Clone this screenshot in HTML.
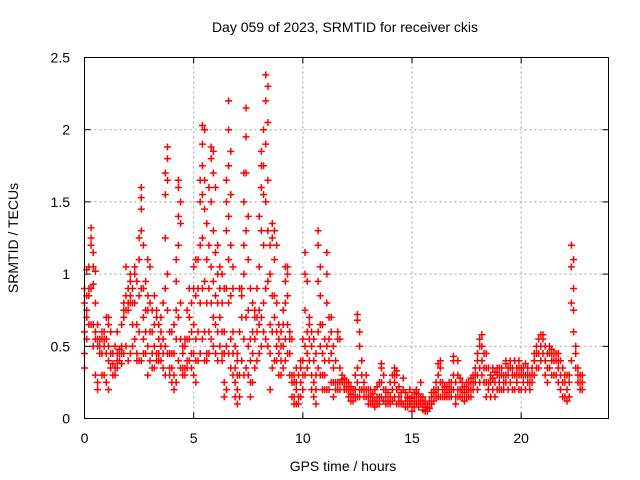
<!DOCTYPE html>
<html><head><meta charset="utf-8"><style>
body{margin:0;background:#fff;}
svg{display:block;font-family:"Liberation Sans",sans-serif;}
</style></head><body>
<svg id="chart" width="640" height="480" viewBox="0 0 640 480" xmlns="http://www.w3.org/2000/svg">
<rect width="640" height="480" fill="#fff"/>
<text x="345" y="32" font-size="14" text-anchor="middle">Day 059 of 2023, SRMTID for receiver ckis</text>
<text x="0" y="0" font-size="14" text-anchor="middle" transform="translate(18,238) rotate(-90)">SRMTID / TECUs</text>
<text x="343" y="471" font-size="14" text-anchor="middle">GPS time / hours</text>
<g id="grid"></g><g id="ticks"></g><g id="marks"></g>
<rect x="84.5" y="57.5" width="524" height="361" fill="none" stroke="#000" stroke-width="1"/>
</svg>
<script>
const xTicks=[0,5,10,15,20];
const yTicks=[0,0.5,1,1.5,2,2.5];
const yTickLabels=["0","0.5","1","1.5","2","2.5"];
// each row: [hour, SRMTID values...]
const tec=[
[0.0,.35,.45,.6,.8,.9],[0.1,.55,.7,.85,1.03,.75],[0.2,.65,.9,1.05,.85],[0.3,.65,1.25,1.32,1.2,.9],[0.4,.5,.65,.93,1.05,1.15],
[0.5,.3,.6,.8,1.02,.55],[0.6,.2,.25,.5,.55,.65],[0.7,.45,.55,.5],[0.8,.45,.55,.6,.3],[0.9,.3,.5,.55,.6],
[1.0,.25,.45,.55,.7],[1.1,.2,.4,.5,.65,.7],[1.2,.35,.45,.6],[1.3,.3,.38,.45],[1.4,.3,.35,.5],
[1.5,.35,.4,.45,.6],[1.6,.4,.45,.48],[1.7,.38,.45,.5,.65],[1.8,.45,.7,.75,.8],[1.9,.5,.75,.85,1.05],
[2.0,.4,.75,.8,.9],[2.1,.45,.8,.85,.95,1.0],[2.2,.5,.65,.8,.9],[2.3,.55,.8,1.0,1.05],[2.4,.4,.45,.65,.95],
[2.5,.4,.6,.85,1.1,1.25],[2.6,.4,.9,1.3,1.45,1.53,1.6],[2.7,.45,.55,.7,.9,1.2],[2.8,.45,.6,.75,.95],[2.9,.5,.75,.85,1.1,.3],
[3.0,.4,.6,.8,1.05],[3.1,.35,.45,.6,.75],[3.2,.35,.5,.65,.85],[3.3,.4,.45,.7,.75],[3.4,.45,.55,.65,.4],
[3.5,.4,.5,.6,.7],[3.6,.35,.45,.55,.8],[3.7,.3,.5,.9,1.25,1.55,1.7],[3.8,.45,.75,1.0,1.65,1.8,1.88],[3.9,.3,.35,.45,.6],
[4.0,.25,.35,.45,.6],[4.1,.2,.3,.45,.65],[4.2,.25,.55,.75,.95,1.1],[4.3,.4,.7,1.2,1.4,1.6,1.65],[4.4,.35,.55,.8,1.35,1.5],
[4.5,.3,.35,.45,.5],[4.6,.3,.35,.5,.55],[4.7,.35,.4,.55,.75],[4.8,.4,.55,.7,.9],[4.9,.35,.45,.6,.8],
[5.0,.3,.45,.65,.9,1.05],[5.1,.25,.4,.55,.85,1.1],[5.2,.4,.6,.9,1.1],[5.3,.45,.8,1.2,1.5,1.65],[5.4,.55,.9,1.25,1.55,1.75,1.9,2.03],
[5.5,.4,.6,.95,1.45,1.65,2.0],[5.6,.4,.45,.8,1.1,1.35],[5.7,.45,.6,.9,1.2,1.6],[5.8,.55,.8,1.05,1.5,1.8,1.88],[5.9,.5,.7,.95,1.3,1.7,1.85],
[6.0,.45,.65,.85,1.15,1.6],[6.1,.4,.6,.8,1.0,1.2],[6.2,.5,.7,.9,1.05],[6.3,.4,.45,.6,.8,1.0],[6.4,.15,.25,.45,.6,.9],
[6.5,.2,.5,.9,1.3,1.5,1.65],[6.6,.45,.8,1.1,1.4,1.75,2.0,2.2],[6.7,.35,.55,.85,1.2,1.55,1.85],[6.8,.3,.45,.6,.9,1.05],[6.9,.15,.25,.35,.5],
[7.0,.1,.2,.3,.4,.45],[7.1,.15,.3,.6,.9],[7.2,.4,.7,.85,.9],[7.3,.3,.55,1.0,1.2,1.5,1.7],[7.4,.35,.7,1.3,1.7,1.95,2.15],
[7.5,.3,.5,.75,1.1,1.4],[7.6,.15,.25,.4,.55,.9],[7.7,.25,.45,.6,.8],[7.8,.35,.55,.7,.75],[7.9,.4,.6,.7,.9],
[8.0,.45,.65,.75,1.05,1.4],[8.1,.5,.7,1.3,1.6,1.75,1.85],[8.2,.6,.8,1.2,1.55,1.75,2.0],[8.3,.55,.9,1.5,1.9,2.2,2.38],[8.4,.5,.95,1.3,1.65,2.05,2.3],
[8.5,.2,.45,.65,1.0,1.2],[8.6,.35,.6,.85,1.25,1.35],[8.7,.4,.7,.85,1.1,1.3],[8.8,.4,.5,.6,.8,1.2],[8.9,.3,.45,.55,.65],
[9.0,.3,.4,.5,.6],[9.1,.35,.5,.65,.75],[9.2,.4,.55,.8,.95,1.05],[9.3,.45,.65,.85,1.0,1.05],[9.4,.3,.45,.55,.6],
[9.5,.25,.15,.3,.55],[9.6,.1,.15,.25,.3],[9.7,.1,.2,.25,.35],[9.8,.1,.15,.3],[9.9,.15,.25,.35,.4],
[10.0,.2,.3,.4,.55],[10.1,.3,.5,.75,1.0,1.15],[10.2,.35,.45,.6,.95],[10.3,.4,.55,.65,.7],[10.4,.2,.3,.5,.6],
[10.5,.15,.25,.4,.55],[10.6,.1,.2,.3,.45],[10.7,.35,.6,.95,1.2,1.3],[10.8,.3,.5,.85,1.05,.65],[10.9,.2,.3,.45,.65],
[11.0,.2,.3,.4,.55],[11.1,.2,.5,.8,1.0,1.15],[11.2,.2,.4,.55,.7],[11.3,.25,.45,.6,.7],[11.4,.15,.25,.35,.5],
[11.5,.2,.25,.4],[11.6,.2,.25,.55,.6],[11.7,.2,.25,.35,.55],[11.8,.25,.27,.3],[11.9,.2,.25,.28],
[12.0,.2,.22,.25],[12.1,.15,.2,.25],[12.2,.12,.17,.22],[12.3,.12,.15,.2],[12.4,.15,.2,.3],
[12.5,.15,.25,.35,.68,.72],[12.6,.15,.2,.5,.6],[12.7,.2,.3,.4],[12.8,.15,.2,.25],[12.9,.15,.2,.3],
[13.0,.1,.15,.2],[13.1,.1,.15,.2],[13.2,.1,.12,.17],[13.3,.08,.12,.2],[13.4,.1,.15,.22],
[13.5,.1,.15,.25],[13.6,.15,.25,.35,.38],[13.7,.12,.2,.3],[13.8,.1,.15,.2],[13.9,.1,.12,.18],
[14.0,.1,.15,.25],[14.1,.12,.2,.3],[14.2,.15,.25,.3,.35],[14.3,.1,.2,.3,.33],[14.4,.1,.15,.22],
[14.5,.1,.12,.18],[14.6,.1,.2,.28],[14.7,.08,.12,.18],[14.8,.08,.12,.15],[14.9,.1,.14,.2],
[15.0,.05,.1,.15],[15.1,.08,.12,.18],[15.2,.1,.15,.2],[15.3,.08,.12,.17],[15.4,.1,.15,.25],
[15.5,.06,.1,.15],[15.6,.05,.08,.12],[15.7,.05,.08,.1],[15.8,.07,.1,.12],[15.9,.1,.15,.18],
[16.0,.12,.18,.2],[16.1,.15,.2,.25],[16.2,.15,.2,.3,.38],[16.3,.15,.25,.35,.4],[16.4,.15,.2,.25],
[16.5,.15,.2,.22],[16.6,.15,.18,.22],[16.7,.15,.2,.25],[16.8,.15,.2,.25],[16.9,.2,.3,.4,.43],
[17.0,.1,.15,.25],[17.1,.15,.2,.3,.4],[17.2,.15,.2,.28],[17.3,.15,.2,.25],[17.4,.12,.18,.22],
[17.5,.15,.2,.25],[17.6,.15,.2,.25],[17.7,.15,.2,.25,.28],[17.8,.2,.25,.3],[17.9,.25,.3,.35],
[18.0,.2,.3,.4,.45],[18.1,.25,.35,.5,.55],[18.2,.3,.4,.5,.58],[18.3,.25,.35,.45],[18.4,.15,.25,.35,.45],
[18.5,.2,.25,.35],[18.6,.15,.25,.3],[18.7,.2,.28,.35],[18.8,.15,.25,.32],[18.9,.2,.3,.35],
[19.0,.2,.25,.3,.35],[19.1,.2,.3,.35],[19.2,.2,.25,.3],[19.3,.25,.3,.38,.4],[19.4,.2,.3,.35],
[19.5,.25,.35,.4],[19.6,.2,.3,.35],[19.7,.2,.3,.4],[19.8,.25,.3,.35],[19.9,.2,.3,.35,.4],
[20.0,.2,.3,.35],[20.1,.25,.3,.35],[20.2,.2,.3,.38],[20.3,.25,.3,.35],[20.4,.2,.25,.3],
[20.5,.25,.3,.35],[20.6,.3,.4,.45],[20.7,.35,.45,.5],[20.8,.35,.45,.55],[20.9,.4,.5,.58],
[21.0,.45,.55,.58],[21.1,.3,.4,.5],[21.2,.25,.35,.45],[21.3,.35,.45,.5],[21.4,.3,.4,.45,.48],
[21.5,.3,.4,.45],[21.6,.3,.4,.45],[21.7,.25,.35,.4,.45],[21.8,.2,.3,.4],[21.9,.15,.25,.35],
[22.0,.15,.25,.3],[22.1,.12,.2,.3],[22.2,.15,.25,.3],[22.3,.4,.8,1.05,1.2],[22.4,.6,.75,.9,1.1],
[22.5,.35,.45,.5],[22.6,.25,.3,.35],[22.7,.2,.25,.3],[22.8,.2,.25,.3]
];
const X0=84.5,X1=608.5,Y0=418.5,Y1=57.5,XMAX=24,YMAX=2.5;
function xs(h){return X0+(X1-X0)*h/XMAX;}
function ys(v){return Y0-(Y0-Y1)*v/YMAX;}
const NS="http://www.w3.org/2000/svg";
const grid=document.getElementById('grid'),ticks=document.getElementById('ticks'),marks=document.getElementById('marks');
function mk(tag,attrs,parent){const e=document.createElementNS(NS,tag);for(const k in attrs)e.setAttribute(k,attrs[k]);parent.appendChild(e);return e;}
xTicks.forEach(t=>{
  const x=xs(t);
  if(t>0){const g=mk('line',{x1:x,x2:x,y1:Y0,y2:Y1,stroke:'#a0a0a0','stroke-dasharray':'2,3'},grid);
  
  }
  mk('line',{x1:x,x2:x,y1:Y0,y2:Y0-6,stroke:'#000'},ticks);
  mk('line',{x1:x,x2:x,y1:Y1,y2:Y1+6,stroke:'#000'},ticks);
  const l=mk('text',{x:x,y:443,'font-size':14,'text-anchor':'middle'},ticks);
  l.textContent=String(t);
  
  
});
yTicks.forEach((t,i)=>{
  const y=ys(t);
  if(t>0&&t<YMAX){const g=mk('line',{x1:X0,x2:X1,y1:y,y2:y,stroke:'#a0a0a0','stroke-dasharray':'2,3'},grid);
  
  }
  mk('line',{x1:X0,x2:X0+6,y1:y,y2:y,stroke:'#000'},ticks);
  mk('line',{x1:X1,x2:X1-6,y1:y,y2:y,stroke:'#000'},ticks);
  const l=mk('text',{x:70,y:y+5,'font-size':14,'text-anchor':'end'},ticks);
  l.textContent=yTickLabels[i];
  
  
});
let d='';
tec.forEach(row=>{
  const x=xs(row[0]);
  for(let i=1;i<row.length;i++){const y=ys(row[i]);d+=`M${x-3.5} ${y}h7M${x} ${y-3.5}v7`;}
});
const p=mk('path',{d:d,stroke:'#ff0000','stroke-width':1.5,fill:'none'},marks);


</script>
</body></html>
